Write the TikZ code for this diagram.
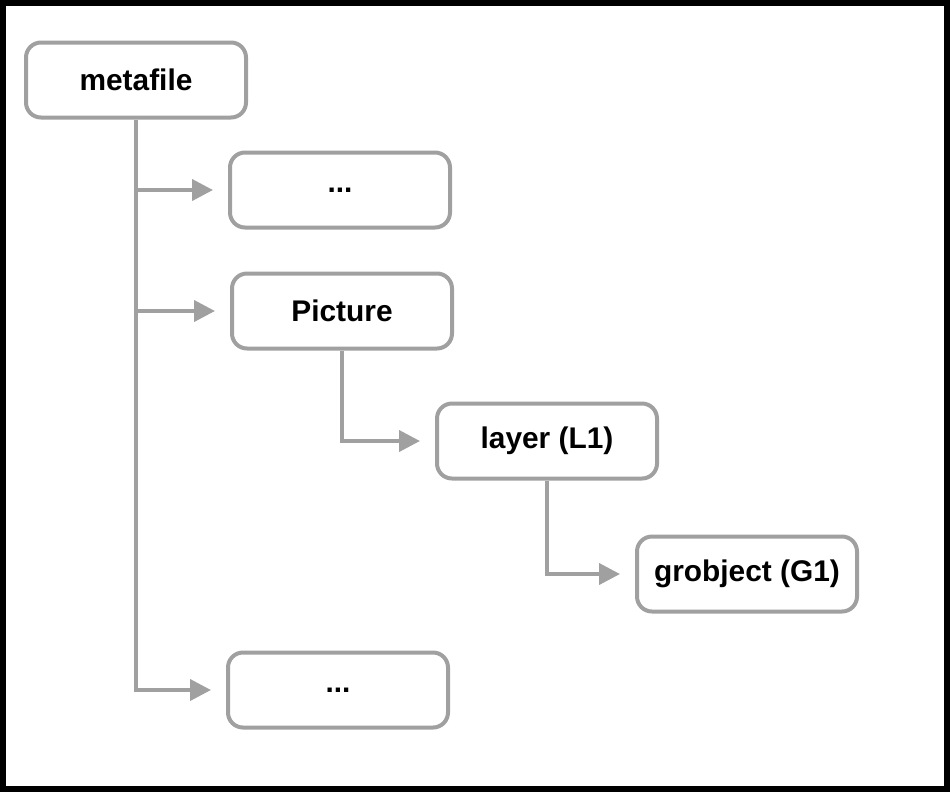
\documentclass[tikz,border=0pt]{standalone}
\usepackage{fontspec}
\setmainfont{Liberation Sans}
\usepackage{tikz}
\usetikzlibrary{arrows.meta}

\definecolor{boxgray}{RGB}{160,160,160}

\tikzset{
  treebox/.style={draw=boxgray, line width=0.08cm, rounded corners=0.3cm,
    minimum width=4.4cm, minimum height=1.5cm, inner sep=0pt,
    font=\fontsize{17}{20}\selectfont\bfseries},
  treearrow/.style={boxgray, line width=0.08cm,
    -{Triangle[length=0.42cm, width=0.42cm]}, shorten >=0.3cm}
}

\begin{document}
\begin{tikzpicture}
    \useasboundingbox (0, 0) rectangle (19, -15.84);
    \draw [line width=0.12cm] (0.06, -0.06) rectangle (18.94, -15.78);
    % tree nodes
    \node [treebox] (meta) at (2.72, -1.6) {metafile};
    \node [treebox] (dotsA) at (6.8, -3.8) {...};
    \node [treebox] (pict) at (6.84, -6.22) {Picture};
    \node [treebox] (layer) at (10.94, -8.82) {layer (L1)};
    \node [treebox] (grob) at (14.94, -11.48) {grobject (G1)};
    \node [treebox] (dotsB) at (6.76, -13.8) {...};
    % connectors
    \draw [treearrow] (meta.south) |- (dotsB.west);
    \draw [treearrow] (meta.south |- dotsA.west) -- (dotsA.west);
    \draw [treearrow] (meta.south |- pict.west) -- (pict.west);
    \draw [treearrow] (pict.south) |- (layer.west);
    \draw [treearrow] (layer.south) |- (grob.west);
  \end{tikzpicture}
\end{document}
